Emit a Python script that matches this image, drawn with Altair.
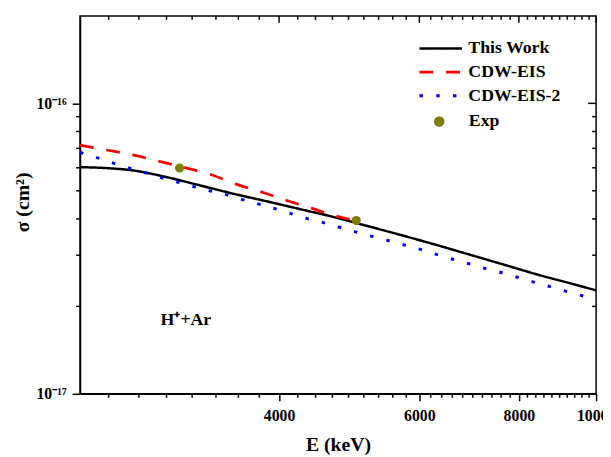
import altair as alt
import pandas as pd

FONT = "Liberation Serif"

# ---------------- data ----------------
series_names = ["This Work", "CDW-EIS", "CDW-EIS-2"]
series_colors = ["#000000", "#ff0000", "#0000ff"]
series_dash = [[1, 0], [14, 13], [3.5, 13.5]]
series_width = [2.5, 3, 3]

this_work_E = [2250, 2440, 2640, 2760, 2900, 3190, 3510, 3860, 4240, 4670, 5130,
               5800, 6390, 7010, 7710, 8500, 9340, 10000]
this_work_sigma = [6.03e-17, 5.98e-17, 5.86e-17, 5.73e-17, 5.56e-17, 5.21e-17,
                   4.88e-17, 4.60e-17, 4.33e-17, 4.07e-17, 3.80e-17, 3.47e-17,
                   3.22e-17, 2.99e-17, 2.77e-17, 2.56e-17, 2.39e-17, 2.27e-17]

cdw_E = [2250, 2430, 2620, 2830, 3060, 3280, 3540, 3820, 4100, 4410, 4690, 5000]
cdw_sigma = [7.18e-17, 6.91e-17, 6.65e-17, 6.31e-17, 5.99e-17, 5.69e-17,
             5.26e-17, 4.93e-17, 4.62e-17, 4.34e-17, 4.11e-17, 3.95e-17]

cdw2_E = [2250, 2300, 2410, 2510, 2640, 2750, 2870, 3010, 3140, 3280, 3440, 3590,
          3750, 3930, 4100, 4280, 4480, 4690, 4890, 5120, 5350, 5590, 5850, 6120,
          6380, 6680, 7000, 7290, 7630, 7960, 8330, 8700, 9090, 9520, 10000]
cdw2_sigma = [6.78e-17, 6.65e-17, 6.39e-17, 6.15e-17, 5.90e-17, 5.71e-17, 5.51e-17,
              5.32e-17, 5.15e-17, 4.99e-17, 4.84e-17, 4.67e-17, 4.52e-17, 4.36e-17,
              4.21e-17, 4.05e-17, 3.93e-17, 3.79e-17, 3.67e-17, 3.54e-17, 3.43e-17,
              3.32e-17, 3.21e-17, 3.10e-17, 2.99e-17, 2.88e-17, 2.78e-17, 2.69e-17,
              2.61e-17, 2.52e-17, 2.43e-17, 2.35e-17, 2.27e-17, 2.19e-17, 2.12e-17]

exp_E = [3000, 5000]
exp_sigma = [5.99e-17, 3.95e-17]

note_text = ["H\u207a+Ar"]
note_E = [2840]
note_sigma = [1.79e-17]

x_domain = [2250, 10000]
y_domain = [1e-17, 2e-16]
x_major = [4000, 6000, 8000, 10000]
x_minor = [2444, 2667, 2889, 3111, 3333, 3556, 3778,
           4222, 4444, 4667, 4889, 5111, 5333, 5556, 5778,
           6200, 6400, 6600, 6800, 7000, 7200, 7400, 7600, 7800,
           8200, 8400, 8600, 8800, 9000, 9200, 9400, 9600, 9800]
y_major = [1e-16, 1e-17]
y_major_labels = ["10\u207b\u00b9\u2076", "10\u207b\u00b9\u2077"]
y_minor = [2e-17, 3e-17, 4e-17, 5e-17, 6e-17, 7e-17, 8e-17, 9e-17]

W, H = 523, 383

# ---------------- tables ----------------
rows = []
for name, es, ss in [(series_names[0], this_work_E, this_work_sigma),
                     (series_names[1], cdw_E, cdw_sigma),
                     (series_names[2], cdw2_E, cdw2_sigma)]:
    for e, s in zip(es, ss):
        rows.append({"series": name, "E": e, "sigma": s})
df_lines = pd.DataFrame(rows)
df_exp = pd.DataFrame({"E": exp_E, "sigma": exp_sigma, "kind": ["Exp"] * len(exp_E)})
df_note = pd.DataFrame({"E": note_E, "sigma": note_sigma, "label": note_text})


def x_edge(values, sigma_edge):
    return pd.DataFrame({"E": values, "sigma": [sigma_edge] * len(values)})


def y_edge(values, e_edge):
    return pd.DataFrame({"sigma": values, "E": [e_edge] * len(values)})


xs = alt.Scale(type="log", domain=x_domain, nice=False)
ys = alt.Scale(type="log", domain=y_domain, nice=False)

LAB = dict(labelFont=FONT, labelFontWeight="bold", labelColor="black",
           labelFlush=False, labelOverlap=False, grid=False,
           tickColor="black", tickWidth=1.5, domainColor="black", domainWidth=1.5)

x_axis = alt.Axis(
    orient="bottom", values=x_major, format="d", labelFontSize=16,
    tickSize=7, labelPadding=7,
    title="E (keV)", titleFont=FONT, titleFontSize=20, titleFontWeight="bold",
    titleColor="black", titleX=261.5, titleY=57, titleBaseline="alphabetic",
    titleAlign="center", **LAB)

y_label_expr = "datum.value == %r ? '%s' : datum.value == %r ? '%s' : ''" % (
    y_major[0], y_major_labels[0], y_major[1], y_major_labels[1])
y_axis = alt.Axis(
    orient="left", values=y_major, labelExpr=y_label_expr, labelFontSize=16,
    tickSize=8, labelPadding=6,
    title="\u03c3 (cm\u00b2)", titleFont=FONT, titleFontSize=20, titleFontWeight="bold",
    titleColor="black", titleX=-52, titleY=188.5, titleAngle=270,
    titleBaseline="alphabetic", titleAlign="center", **LAB)

LEG = dict(title=None, orient="none", padding=0, labelFont=FONT, labelFontWeight="bold",
           labelFontSize=18, labelColor="black")
line_legend = alt.Legend(legendX=339, legendY=24, symbolType="M-4.3,0H4.3",
                         symbolSize=100, symbolStrokeWidth=2.5, symbolOffset=17.5,
                         labelOffset=19, rowPadding=6, **LEG)
exp_legend = alt.Legend(legendX=339, legendY=98, symbolType="circle", symbolSize=113,
                        symbolOffset=16, labelOffset=21, symbolFillColor="#808000",
                        symbolOpacity=1, symbolStrokeWidth=0, **LEG)

lines = alt.Chart(df_lines).mark_line(clip=True, interpolate="monotone").encode(
    x=alt.X("E:Q", scale=xs, axis=x_axis),
    y=alt.Y("sigma:Q", scale=ys, axis=y_axis),
    color=alt.Color("series:N", scale=alt.Scale(domain=series_names, range=series_colors),
                    sort=series_names, legend=line_legend),
    strokeDash=alt.StrokeDash("series:N", scale=alt.Scale(domain=series_names, range=series_dash),
                              sort=series_names, legend=line_legend),
    strokeWidth=alt.StrokeWidth("series:N", scale=alt.Scale(domain=series_names, range=series_width),
                                legend=None),
)

exp = alt.Chart(df_exp).mark_point(filled=True, size=85, opacity=1, color="#808000").encode(
    x=alt.X("E:Q", scale=xs, axis=None),
    y=alt.Y("sigma:Q", scale=ys, axis=None),
    shape=alt.Shape("kind:N", scale=alt.Scale(domain=["Exp"], range=["circle"]),
                    legend=exp_legend),
)

note = alt.Chart(df_note).mark_text(align="left", baseline="middle", font=FONT,
                                    fontSize=18, fontWeight="bold", color="black").encode(
    x=alt.X("E:Q", scale=xs, axis=None),
    y=alt.Y("sigma:Q", scale=ys, axis=None),
    text="label:N",
)

# tick marks as one-sided stroke symbols anchored on the frame edges
DOWN = "M0,0V2"    # from the anchor downwards, length sqrt(size)
LEFT = "M0,0H-2"   # from the anchor to the left, length sqrt(size)


def edge_ticks(df, shape, length):
    return alt.Chart(df).mark_point(shape=shape, size=length * length, filled=False,
                                    stroke="black", strokeWidth=1.5, opacity=1).encode(
        x=alt.X("E:Q", scale=xs, axis=None),
        y=alt.Y("sigma:Q", scale=ys, axis=None))


tick_layers = [
    edge_ticks(x_edge(x_minor, y_domain[0]), DOWN, 4),   # bottom minor, outward
    edge_ticks(x_edge(x_major, y_domain[1]), DOWN, 7),   # top major, inward
    edge_ticks(x_edge(x_minor, y_domain[1]), DOWN, 4),   # top minor, inward
    edge_ticks(y_edge(y_minor, x_domain[0]), LEFT, 4),   # left minor, outward
    edge_ticks(y_edge(y_major, x_domain[1]), LEFT, 8),   # right major, inward
    edge_ticks(y_edge(y_minor, x_domain[1]), LEFT, 4),   # right minor, inward
]

chart = alt.layer(lines, exp, note, *tick_layers).resolve_axis(
    x="independent", y="independent"
).properties(
    width=W, height=H,
    padding={"left": 73, "top": 5, "right": 7, "bottom": 60},
    autosize=alt.AutoSizeParams(type="none"),
).configure_view(stroke="black", strokeWidth=1.5)

chart.save("out.html", embed_options={"renderer": "svg", "actions": False})
